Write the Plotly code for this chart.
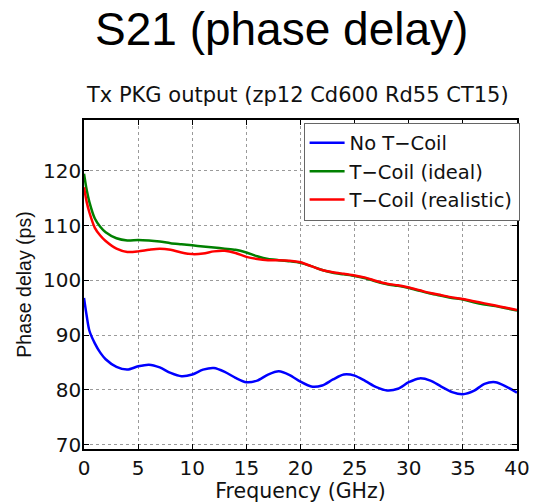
import plotly.graph_objects as go

# Frequency sweep (GHz) and phase delay (ps) for the three package variants
freq_ghz = [0, 0.25, 0.5, 1, 1.5, 2, 3, 4, 5, 6, 7, 8, 9, 10, 11, 12, 13, 14, 15, 16,
            17, 18, 19, 20, 21, 22, 23, 24, 25, 26, 27, 28, 29, 30, 31, 32, 33, 34,
            35, 36, 37, 38, 39, 40]

no_tcoil = [96.8, 93.5, 90.8, 88.5, 86.8, 85.6, 84.2, 83.7, 84.3, 84.6, 84.1, 83.1,
            82.5, 82.8, 83.7, 84.0, 83.3, 82.2, 81.4, 81.7, 82.8, 83.4, 82.7, 81.5,
            80.6, 80.8, 81.9, 82.8, 82.6, 81.6, 80.5, 79.9, 80.2, 81.4, 82.1, 81.7,
            80.6, 79.6, 79.2, 79.8, 81.1, 81.4, 80.6, 79.5]

tcoil_ideal = [119.5, 116.5, 114.3, 111.3, 109.8, 108.8, 107.7, 107.3, 107.4, 107.3,
               107.1, 106.8, 106.6, 106.4, 106.2, 106.0, 105.8, 105.6, 105.1, 104.4,
               103.9, 103.7, 103.5, 103.2, 102.6, 101.9, 101.4, 101.1, 100.8, 100.4,
               99.8, 99.3, 99.0, 98.6, 98.1, 97.6, 97.2, 96.8, 96.5, 96.0, 95.6, 95.3,
               94.9, 94.5]

tcoil_realistic = [117.0, 114.3, 112.4, 109.6, 108.2, 107.2, 105.8, 105.2, 105.3, 105.6,
                   105.8, 105.6, 105.1, 104.8, 104.9, 105.3, 105.4, 105.0, 104.3, 103.9,
                   103.7, 103.7, 103.6, 103.3, 102.6, 101.9, 101.5, 101.2, 100.9, 100.5,
                   99.9, 99.4, 99.1, 98.7, 98.2, 97.7, 97.3, 96.9, 96.6, 96.2, 95.8, 95.4,
                   95.0, 94.6]

x_ticks = [0, 5, 10, 15, 20, 25, 30, 35, 40]
y_ticks = [70, 80, 90, 100, 110, 120]

TITLE_FONT = "Liberation Sans, Arial, Helvetica, sans-serif"
FONT = "DejaVu Sans, Arial, sans-serif"

fig = go.Figure()
for name, vals, color in [
    ("No T\u2212Coil", no_tcoil, "#0000ff"),
    ("T\u2212Coil (ideal)", tcoil_ideal, "#008000"),
    ("T\u2212Coil (realistic)", tcoil_realistic, "#ff0000"),
]:
    fig.add_trace(go.Scatter(
        x=freq_ghz, y=vals, name=name, mode="lines",
        line=dict(color=color, width=2.5, shape="spline", smoothing=0.8),
    ))

axis_common = dict(
    showline=True, linecolor="black", linewidth=1.5, mirror="ticks",
    ticks="inside", ticklen=5, tickcolor="black", tickwidth=1,
    showgrid=True, gridcolor="#9a9a9a", griddash="dot", gridwidth=1,
    zeroline=False, automargin=False,
    tickfont=dict(family=FONT, size=20, color="#111"),
)

fig.update_xaxes(range=[0, 40], tickvals=x_ticks, **axis_common,
                 title=dict(text="Frequency (GHz)", standoff=0,
                            font=dict(family=FONT, size=20.5, color="#111")))
fig.update_yaxes(range=[69.2, 129.3], tickvals=y_ticks, **axis_common,
                 ticklabelstandoff=-3,
                 title=dict(text="Phase delay (ps)", standoff=6,
                            font=dict(family=TITLE_FONT, size=19.5, color="#111")))

fig.update_layout(
    width=533, height=503,
    margin=dict(l=84, r=16, t=120, b=54),
    paper_bgcolor="white", plot_bgcolor="white",
    font=dict(family=FONT, color="#111"),
    showlegend=True,
    legend=dict(
        x=1.006, y=0.992, xanchor="right", yanchor="top",
        bgcolor="white", bordercolor="#666", borderwidth=1,
        font=dict(family=FONT, size=19.5, color="#111"),
        tracegroupgap=0, itemwidth=35,
    ),
    annotations=[
        dict(text="S21 (phase delay)", xref="paper", yref="paper",
             x=0.457, y=1.278, xanchor="center", yanchor="middle",
             showarrow=False, font=dict(family=TITLE_FONT, size=46, color="#000")),
        dict(text="Tx PKG output (zp12 Cd600 Rd55 CT15)", xref="paper", yref="paper",
             x=0.494, y=1.076, xanchor="center", yanchor="middle",
             showarrow=False, font=dict(family=FONT, size=21, color="#111")),
    ],
)

fig.write_html("out.html")
